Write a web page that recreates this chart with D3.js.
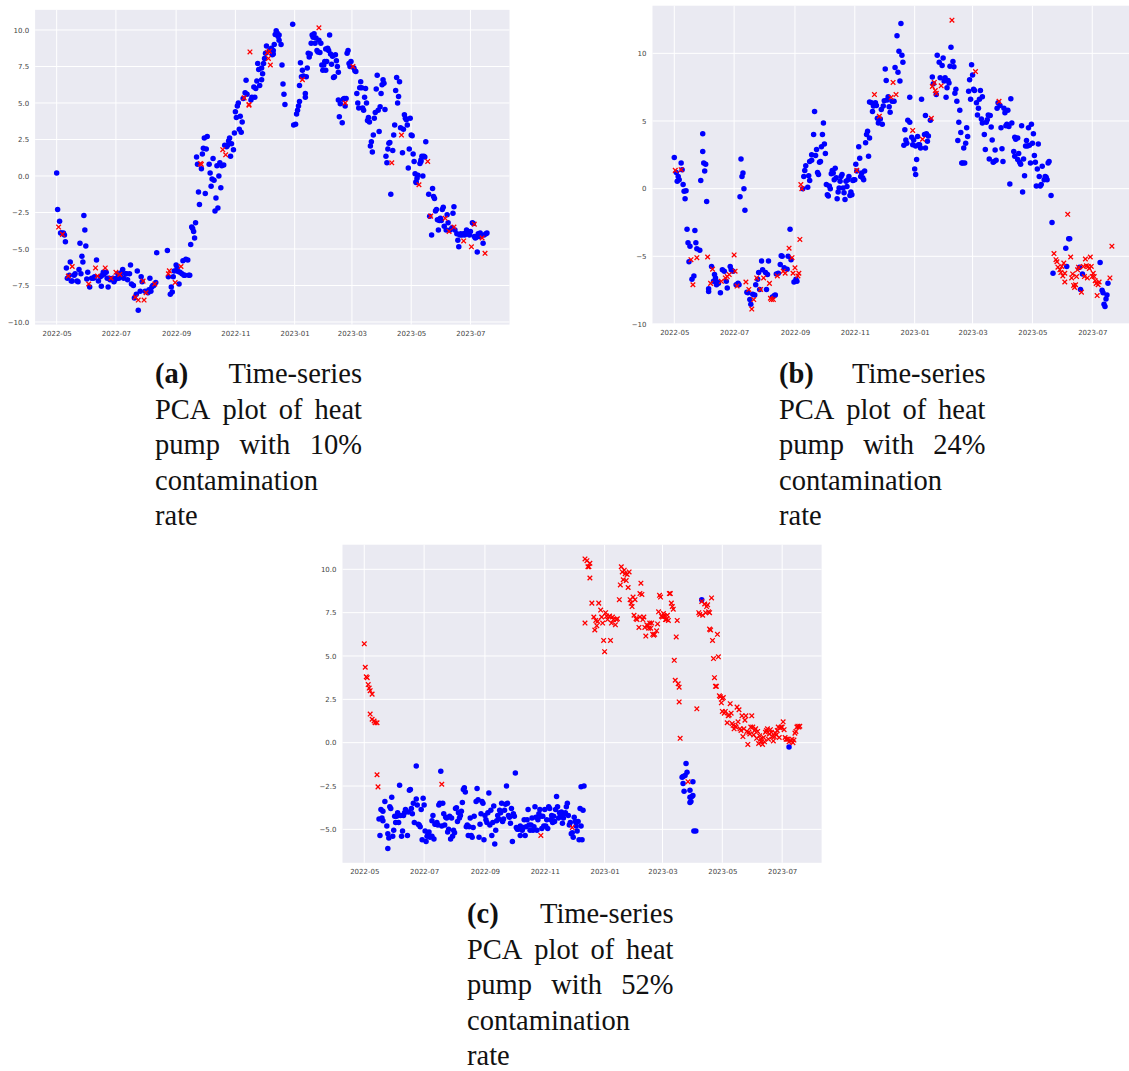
<!DOCTYPE html>
<html>
<head>
<meta charset="utf-8">
<script src="https://cdn.jsdelivr.net/npm/d3@7"></script>
<style>
  body { margin: 0; background: #fff; }
  svg { display: block; }
  .tick-label { font-family: "DejaVu Sans", sans-serif; font-size: 7px; fill: #444; }
  .caption { font-family: "Liberation Serif", serif; font-size: 28.5px; fill: #111; }
</style>
</head>
<body>
<div id="wrapper"></div>
<script>
// Month ticks shared by all three panels
const monthTicks = ["2022-05", "2022-07", "2022-09", "2022-11", "2023-01", "2023-03", "2023-05", "2023-07"];
const startDate = "2022-05-01"; // day 0 of every series

// y ticks per panel
const yTicksA = [-10, -7.5, -5, -2.5, 0, 2.5, 5, 7.5, 10];
const yTicksB = [-10, -5, 0, 5, 10];
const yTicksC = [-5, -2.5, 0, 2.5, 5, 7.5, 10];

// Captions
const captionLabels = ["(a)", "(b)", "(c)"];
const contaminationRates = ["10%", "24%", "52%"];

// [day since 2022-05-01, first principal component]
// (a) 10% contamination
const normalA = [[0,0.2],[1,-2.3],[3,-3.1],[4,-3.9],[5,-3.9],[7,-3.9],[8,-4.05],[9,-4.5],[10,-6.3],[11,-7.0],[13,-6.8],[14,-5.9],[15,-7.2],[16,-7.2],[18,-6.8],[19,-6.7],[21,-7.2],[22,-7.25],[23,-6.4],[24,-4.6],[25,-6.7],[26,-5.5],[27,-5.9],[28,-2.7],[29,-3.7],[30,-4.8],[31,-7.05],[32,-6.6],[34,-7.6],[36,-7.0],[38,-7.0],[39,-6.9],[41,-5.75],[43,-7.2],[45,-6.9],[46,-7.55],[47,-6.8],[48,-6.6],[49,-6.7],[51,-6.6],[52,-7.0],[53,-7.6],[54,-7.0],[55,-7.1],[58,-7.0],[59,-7.25],[60,-7.1],[62,-7.0],[63,-6.7],[64,-7.0],[66,-6.9],[67,-6.6],[68,-6.4],[69,-7.0],[71,-6.7],[72,-6.7],[73,-7.1],[75,-6.7],[76,-6.1],[77,-7.4],[79,-7.5],[80,-8.35],[82,-8.1],[83,-6.5],[84,-9.2],[86,-7.9],[87,-6.9],[88,-7.25],[91,-7.9],[94,-8.0],[95,-7.8],[96,-7.0],[97,-7.9],[98,-7.6],[99,-7.5],[100,-7.5],[102,-7.3],[103,-5.25],[114,-5.1],[115,-6.9],[117,-8.1],[118,-7.6],[119,-7.95],[120,-6.9],[121,-6.5],[123,-6.1],[124,-6.3],[125,-6.55],[126,-7.4],[127,-6.6],[129,-6.7],[130,-5.8],[131,-6.8],[132,-6.8],[133,-5.7],[135,-5.75],[136,-6.8],[137,-6.8],[138,-4.7],[139,-3.5],[140,-3.6],[141,-3.8],[142,-4.25],[143,-3.2],[144,1.3],[145,0.8],[146,-1.1],[147,-1.95],[149,0.5],[150,1.5],[151,1.9],[152,2.6],[153,-1.2],[154,1.85],[155,2.7],[157,0.8],[158,0.2],[159,-0.7],[160,-0.2],[161,1.2],[162,-0.3],[163,-2.4],[164,-1.5],[165,0.7],[166,-2.2],[167,0.0],[168,0.9],[169,-0.8],[170,0.7],[172,0.75],[173,2.1],[175,2.0],[176,2.1],[177,2.4],[178,2.6],[179,1.35],[180,2.2],[182,1.8],[183,2.95],[184,4.4],[185,4.0],[186,4.8],[187,5.0],[188,3.2],[189,4.1],[190,3.0],[191,3.7],[192,5.3],[194,5.7],[195,6.55],[196,5.6],[200,5.2],[201,5.4],[203,6.1],[204,5.4],[205,6.0],[206,6.5],[207,7.7],[208,7.3],[209,6.2],[211,7.4],[211,6.6],[212,7.0],[213,7.7],[214,8.05],[215,8.4],[216,8.9],[219,8.6],[221,8.75],[222,8.3],[223,8.6],[223,8.35],[224,9.0],[225,9.7],[226,9.95],[227,9.8],[228,9.55],[229,9.3],[229,9.65],[231,9.0],[232,7.6],[233,6.3],[234,5.6],[235,4.9],[243,10.4],[244,3.5],[246,3.55],[247,4.25],[248,4.5],[249,4.8],[250,5.1],[250,6.2],[251,7.75],[252,6.8],[253,7.25],[254,6.85],[256,5.65],[256,5.4],[257,6.8],[258,7.4],[259,8.4],[260,8.15],[261,8.35],[262,9.1],[263,9.65],[264,9.5],[265,9.75],[266,9.1],[267,9.45],[268,8.6],[269,8.5],[270,9.3],[271,8.45],[272,9.1],[273,7.6],[274,7.25],[275,7.6],[276,7.85],[277,7.25],[277,8.7],[278,7.85],[279,8.75],[280,8.6],[281,9.65],[282,8.35],[283,7.65],[284,8.2],[285,6.75],[286,6.8],[287,8.3],[288,7.9],[289,7.5],[290,7.1],[290,5.2],[291,4.05],[292,4.95],[294,3.65],[295,5.25],[296,5.3],[297,4.8],[298,5.3],[299,8.4],[300,8.6],[301,7.7],[302,7.5],[303,7.85],[306,7.4],[307,7.2],[308,7.15],[309,5.65],[310,5.0],[311,4.65],[312,6.05],[313,6.45],[314,6.05],[315,4.65],[316,4.5],[317,5.4],[318,6.0],[319,5.0],[320,3.8],[321,4.0],[322,3.7],[323,2.05],[324,2.35],[325,1.65],[326,2.8],[327,3.95],[328,4.35],[329,5.95],[330,6.9],[331,4.5],[332,3.05],[333,4.75],[334,5.65],[335,6.25],[336,6.6],[337,6.35],[338,4.55],[339,1.35],[340,0.9],[341,1.85],[342,2.25],[343,2.3],[344,-1.25],[346,1.75],[347,2.8],[348,3.5],[349,5.85],[350,6.75],[351,5.0],[352,5.45],[353,6.45],[354,3.3],[356,1.6],[357,3.2],[358,4.2],[359,3.95],[360,3.85],[361,3.5],[362,0.55],[363,1.85],[364,3.95],[365,2.8],[366,2.75],[367,1.5],[368,1.0],[369,0.15],[370,-0.4],[370,-0.45],[371,-0.15],[372,0.05],[374,0.85],[375,1.1],[375,1.0],[376,1.35],[377,0.0],[378,1.35],[379,1.3],[380,2.35],[383,-1.25],[384,-2.75],[386,-4.05],[387,-0.85],[388,-1.4],[389,-1.55],[390,-2.4],[391,-2.3],[392,-3.0],[393,-3.7],[394,-3.05],[395,-2.9],[396,-3.05],[397,-2.3],[398,-2.15],[399,-3.45],[401,-3.7],[402,-2.65],[403,-3.2],[405,-3.7],[407,-3.55],[408,-2.55],[409,-2.1],[410,-3.7],[412,-3.95],[413,-4.4],[414,-4.85],[415,-4.05],[416,-3.95],[417,-4.05],[418,-4.0],[419,-3.95],[420,-4.05],[421,-3.9],[422,-3.7],[423,-3.95],[425,-4.05],[426,-3.8],[428,-3.2],[429,-3.25],[430,-4.15],[431,-4.25],[432,-4.2],[433,-5.2],[434,-3.95],[435,-4.15],[436,-3.9],[439,-4.6],[440,-4.05],[442,-3.95],[443,-3.9]];
const anomalyA = [[2,-3.5],[6,-4.0],[12,-6.85],[16,-6.2],[33,-7.4],[40,-6.3],[42,-6.85],[50,-6.3],[56,-7.0],[61,-6.6],[65,-6.75],[81,-8.3],[84,-8.5],[89,-7.2],[90,-8.5],[92,-8.0],[101,-7.4],[115,-6.7],[116,-6.5],[122,-7.3],[128,-6.2],[148,0.85],[149,0.8],[171,1.8],[174,1.45],[193,5.35],[198,4.9],[198,4.85],[199,8.5],[217,8.45],[218,8.05],[219,8.55],[220,7.6],[253,6.6],[270,10.15],[297,5.0],[305,7.5],[345,0.9],[355,2.8],[373,-0.6],[382,1.0],[385,-2.75],[400,-2.9],[404,-3.8],[409,-3.5],[419,-4.45],[427,-4.85],[430,-3.3],[438,-4.25],[441,-5.3]];

// (b) 24% contamination
const normalB = [[0,2.3],[2,1.2],[3,0.55],[4,0.9],[5,0.65],[7,1.9],[8,1.4],[9,0.3],[10,-0.2],[12,-0.15],[11,-0.75],[13,-3.0],[14,-4.0],[15,-5.4],[16,-4.25],[18,-6.7],[20,-6.45],[21,-3.1],[22,-4.0],[23,-4.45],[26,-4.55],[27,0.6],[29,4.05],[29,2.75],[30,1.9],[31,1.3],[32,1.8],[33,-0.95],[35,-7.6],[35,-7.4],[38,-5.75],[40,-6.85],[41,-6.35],[42,-6.6],[43,-7.1],[44,-6.9],[45,-7.0],[47,-7.7],[49,-6.0],[51,-6.1],[53,-6.85],[54,-7.35],[57,-5.75],[58,-6.0],[60,-6.1],[63,-7.1],[65,-7.0],[66,-7.1],[67,-0.6],[68,2.2],[69,0.9],[70,1.15],[71,0.0],[72,-1.6],[74,-7.65],[75,-7.7],[77,-8.2],[78,-8.55],[80,-7.8],[82,-7.85],[83,-7.1],[85,-6.7],[86,-6.2],[87,-7.45],[89,-5.35],[90,-6.0],[93,-6.2],[94,-7.45],[95,-6.35],[96,-5.35],[100,-8.0],[102,-7.9],[103,-7.85],[104,-6.3],[106,-6.25],[108,-5.6],[109,-4.95],[110,-5.0],[112,-5.85],[115,-5.95],[116,-5.0],[118,-3.0],[119,-5.25],[122,-6.9],[124,-6.7],[125,-6.85],[131,0.0],[132,0.9],[133,1.35],[134,1.7],[136,0.1],[137,0.95],[138,0.6],[138,2.0],[140,2.1],[140,2.5],[142,4.0],[143,5.7],[144,2.45],[145,2.9],[146,1.2],[147,1.05],[148,1.95],[149,2.0],[150,3.1],[151,4.0],[152,4.85],[153,3.3],[154,2.6],[155,0.3],[156,-0.45],[157,-0.55],[158,0.2],[159,0.0],[160,1.1],[161,1.35],[162,1.15],[163,0.65],[164,1.5],[165,0.8],[166,-0.75],[167,-0.25],[168,0.05],[169,0.55],[170,0.9],[171,1.05],[172,0.05],[173,-0.3],[174,-0.8],[175,0.55],[176,0.15],[177,0.65],[178,0.9],[179,-0.5],[180,-0.25],[181,-0.45],[182,0.6],[183,0.65],[184,0.65],[185,1.8],[186,1.3],[188,3.1],[189,2.25],[190,0.9],[191,1.15],[192,0.8],[193,0.65],[194,1.3],[195,3.4],[196,4.0],[197,4.25],[198,2.4],[199,3.75],[199,6.4],[201,6.35],[202,5.7],[203,6.1],[205,6.35],[206,6.15],[207,5.2],[208,4.85],[210,5.15],[211,5.85],[212,4.75],[213,6.1],[214,6.5],[215,8.85],[216,8.0],[217,6.55],[218,6.8],[219,6.05],[220,5.65],[222,6.45],[224,6.45],[225,8.95],[227,11.3],[228,8.6],[229,10.15],[230,7.95],[231,12.2],[232,9.85],[233,9.35],[234,3.2],[235,4.35],[236,3.6],[237,3.35],[238,5.05],[240,6.75],[240,4.9],[242,3.8],[243,3.25],[244,3.6],[245,1.45],[246,1.05],[246,3.15],[247,2.15],[248,3.85],[249,3.25],[250,3.25],[251,3.0],[252,6.6],[255,4.0],[256,5.4],[256,3.0],[257,4.05],[258,3.5],[259,3.9],[261,5.05],[263,8.25],[264,7.75],[267,6.95],[268,9.85],[270,9.35],[271,8.2],[273,9.1],[274,9.65],[275,7.95],[276,8.2],[277,6.75],[278,7.45],[279,8.0],[280,7.8],[281,9.05],[282,10.45],[284,9.4],[285,9.0],[286,7.05],[287,7.35],[288,6.45],[289,3.55],[290,4.9],[291,5.8],[292,4.15],[293,1.9],[294,1.9],[295,3.0],[296,1.9],[297,3.35],[298,4.5],[299,3.85],[300,7.2],[301,8.05],[302,6.6],[303,9.15],[304,8.4],[305,7.35],[306,7.25],[308,6.35],[309,5.45],[310,5.95],[311,6.6],[312,7.25],[313,5.15],[314,4.85],[314,6.8],[316,4.0],[317,2.9],[318,4.9],[319,5.1],[320,5.45],[321,2.2],[322,5.4],[323,4.55],[324,3.6],[325,1.95],[326,2.0],[327,2.85],[328,2.1],[329,5.95],[330,6.35],[332,6.15],[333,4.5],[334,2.95],[335,2.0],[336,5.95],[337,5.6],[338,4.65],[339,4.75],[340,5.8],[341,4.6],[342,0.35],[343,6.65],[344,4.85],[346,2.75],[347,2.4],[347,3.8],[348,3.65],[350,2.15],[350,3.75],[351,2.6],[352,1.95],[353,1.8],[354,4.65],[355,-0.25],[356,2.2],[357,0.95],[358,3.15],[359,3.55],[360,3.15],[361,4.5],[362,3.2],[363,1.9],[364,4.75],[365,3.35],[366,4.05],[367,2.45],[368,1.95],[369,0.2],[370,1.45],[371,3.3],[372,0.9],[373,0.2],[374,0.3],[375,1.65],[377,0.65],[378,0.9],[379,0.85],[380,0.65],[381,1.9],[382,2.0],[384,-0.5],[385,-2.5],[386,-6.25],[399,-4.4],[400,-5.75],[402,-3.7],[403,-3.7],[413,-5.8],[414,-7.45],[416,-6.3],[434,-5.45],[436,-7.5],[437,-7.7],[438,-8.55],[439,-8.7],[440,-8.15],[441,-7.85],[442,-7.0]];
const anomalyB = [[1,1.35],[7,1.4],[17,-5.25],[19,-7.1],[23,-5.1],[34,-5.05],[37,-7.0],[39,-5.95],[48,-6.85],[52,-6.6],[54,-6.5],[56,-6.35],[61,-4.9],[62,-6.1],[64,-7.2],[73,-6.9],[76,-7.45],[79,-8.9],[81,-8.2],[84,-6.6],[88,-7.45],[91,-6.6],[97,-7.0],[98,-8.1],[99,-8.2],[101,-8.2],[105,-6.45],[111,-6.1],[113,-6.25],[117,-4.4],[120,-5.1],[121,-6.25],[123,-5.85],[126,-6.45],[127,-6.25],[128,-3.75],[129,0.3],[130,0.0],[186,1.35],[204,6.95],[209,5.35],[221,6.75],[223,7.85],[226,6.95],[243,4.3],[253,3.65],[262,5.2],[263,7.55],[265,7.85],[266,7.25],[267,7.05],[272,7.6],[283,12.45],[307,8.65],[331,6.45],[387,-4.8],[389,-5.25],[390,-5.4],[391,-5.8],[393,-6.0],[394,-6.2],[395,-5.75],[396,-6.45],[397,-5.5],[398,-6.25],[398,-6.9],[401,-1.9],[404,-5.05],[405,-6.6],[406,-6.3],[407,-7.15],[408,-7.3],[409,-7.1],[410,-6.5],[411,-6.0],[412,-5.8],[415,-7.65],[417,-5.75],[418,-6.5],[419,-5.2],[420,-5.7],[421,-6.6],[422,-5.75],[423,-5.9],[424,-5.05],[425,-5.75],[426,-6.5],[427,-6.25],[428,-6.5],[429,-6.8],[430,-7.0],[431,-7.9],[432,-7.1],[433,-6.9],[444,-6.6],[446,-4.25]];

// (c) 52% contamination
const normalC = [[15,-4.4],[16,-5.35],[17,-3.85],[18,-4.35],[19,-3.95],[19,-4.5],[21,-3.4],[23,-4.8],[24,-5.25],[24,-6.1],[25,-5.5],[26,-3.7],[27,-3.8],[28,-3.15],[29,-5.4],[30,-5.05],[31,-4.25],[32,-4.6],[33,-4.25],[34,-4.05],[35,-4.6],[36,-2.45],[37,-4.2],[38,-5.4],[39,-5.1],[40,-4.2],[41,-4.05],[42,-3.85],[44,-5.35],[45,-4.0],[46,-2.75],[47,-2.7],[48,-3.8],[49,-4.1],[50,-3.5],[51,-4.6],[53,-1.35],[53,-3.25],[54,-3.6],[55,-4.7],[56,-4.75],[57,-4.85],[58,-3.85],[59,-5.6],[60,-3.2],[61,-3.6],[62,-5.1],[63,-5.7],[64,-5.4],[65,-5.25],[66,-5.15],[67,-5.45],[69,-5.4],[69,-4.5],[70,-4.2],[71,-5.55],[72,-4.7],[73,-4.7],[74,-4.6],[75,-4.75],[76,-3.6],[77,-3.5],[78,-1.65],[79,-4.8],[80,-3.5],[81,-4.1],[82,-4.75],[83,-4.3],[84,-4.35],[85,-5.15],[86,-5.0],[87,-4.25],[88,-5.55],[89,-4.35],[90,-5.4],[91,-5.05],[92,-5.2],[93,-3.8],[94,-3.75],[95,-4.55],[96,-4.05],[97,-4.35],[98,-4.2],[99,-3.95],[100,-3.45],[101,-2.7],[102,-2.6],[103,-2.85],[104,-4.85],[105,-4.75],[106,-5.35],[107,-4.85],[108,-4.35],[109,-5.35],[110,-5.45],[111,-4.9],[112,-4.25],[114,-3.4],[115,-2.65],[116,-3.3],[117,-5.45],[118,-4.7],[119,-4.1],[120,-3.4],[121,-3.5],[122,-5.6],[123,-4.2],[124,-4.45],[125,-4.6],[126,-4.05],[127,-2.9],[128,-4.75],[129,-3.9],[130,-5.35],[131,-4.6],[132,-3.65],[133,-5.85],[134,-5.05],[135,-4.5],[136,-4.2],[137,-4.4],[138,-3.9],[139,-4.05],[140,-3.5],[141,-4.55],[142,-4.4],[143,-3.9],[144,-3.55],[145,-2.5],[146,-3.5],[147,-4.2],[148,-4.3],[149,-4.65],[150,-3.8],[151,-5.7],[152,-4.1],[153,-4.25],[154,-1.75],[155,-4.9],[156,-5.0],[157,-5.0],[159,-5.35],[159,-4.8],[161,-5.05],[162,-4.9],[163,-4.45],[164,-5.35],[165,-4.85],[166,-4.45],[167,-3.85],[168,-4.75],[169,-5.05],[170,-4.75],[171,-4.35],[172,-5.05],[173,-4.85],[174,-3.7],[175,-4.3],[176,-5.05],[177,-4.45],[178,-4.1],[179,-3.85],[180,-4.25],[181,-4.95],[182,-4.25],[183,-4.8],[184,-3.85],[185,-4.8],[186,-4.45],[187,-4.95],[188,-3.7],[189,-3.8],[190,-4.45],[191,-4.2],[192,-4.6],[193,-4.25],[194,-4.55],[195,-3.85],[196,-3.1],[197,-3.7],[198,-4.35],[199,-4.05],[200,-4.25],[201,-4.0],[202,-4.65],[203,-4.35],[204,-4.1],[205,-4.05],[206,-3.7],[207,-3.5],[208,-4.2],[209,-4.75],[210,-4.6],[211,-5.25],[212,-5.2],[213,-5.45],[214,-4.3],[215,-4.55],[216,-4.8],[217,-5.1],[218,-4.55],[219,-5.6],[220,-3.8],[221,-2.55],[221,-4.8],[222,-5.6],[223,-3.9],[224,-2.5],[324,-2.0],[325,-1.95],[325,-2.35],[326,-2.8],[327,-1.9],[328,-1.2],[329,-1.7],[332,-2.75],[332,-3.15],[332,-3.45],[333,-3.4],[334,-3.1],[335,-2.25],[335,-3.05],[336,-5.1],[338,-5.1],[344,8.25],[433,-0.25]];
const anomalyC = [[0,5.7],[1,4.35],[2,3.8],[3,3.75],[4,3.35],[5,3.15],[6,3.0],[8,2.8],[6,1.65],[8,1.35],[10,1.25],[11,1.15],[13,1.15],[13,-1.85],[14,-2.55],[79,-2.4],[180,-5.35],[212,-4.9],[225,10.6],[227,10.5],[228,10.15],[229,10.15],[230,10.35],[230,9.5],[232,8.05],[225,6.9],[234,7.25],[236,7.05],[235,6.5],[237,6.75],[238,7.0],[239,8.05],[241,7.65],[242,7.25],[243,6.9],[244,5.9],[245,5.25],[246,7.5],[247,7.3],[248,7.1],[250,7.3],[251,5.9],[252,6.9],[253,7.25],[254,7.1],[256,6.8],[257,7.1],[258,7.15],[260,8.25],[261,9.1],[262,10.15],[263,9.85],[264,9.4],[265,9.95],[266,9.75],[267,9.35],[268,9.7],[269,8.95],[270,9.85],[271,8.25],[272,8.05],[273,7.85],[274,8.4],[275,7.35],[276,8.25],[277,7.15],[278,7.1],[280,6.65],[281,7.25],[281,8.6],[282,9.2],[283,8.55],[284,7.1],[285,7.25],[286,6.65],[287,6.15],[288,6.8],[289,6.75],[290,6.6],[291,6.9],[292,6.6],[293,6.9],[294,6.25],[295,6.2],[296,6.25],[298,6.45],[299,6.85],[300,7.55],[301,8.5],[302,8.4],[303,7.3],[304,7.25],[305,7.45],[306,7.3],[307,7.1],[308,7.1],[309,7.35],[310,7.05],[311,8.6],[312,8.6],[313,8.05],[314,7.85],[315,7.7],[316,4.75],[317,3.6],[318,6.1],[319,7.05],[320,3.4],[321,3.2],[321,2.35],[322,0.25],[330,-2.25],[339,1.95],[341,7.5],[342,7.4],[344,8.15],[345,7.35],[347,8.0],[348,7.5],[349,7.85],[350,7.95],[351,7.55],[352,7.5],[352,6.55],[353,6.5],[354,8.35],[355,5.9],[356,4.85],[357,3.75],[358,3.25],[359,3.25],[360,6.25],[361,4.95],[362,2.7],[363,2.65],[364,2.3],[365,2.55],[366,2.6],[365,1.8],[367,1.7],[368,1.8],[370,1.15],[371,1.55],[372,1.6],[373,2.25],[374,1.7],[375,1.1],[376,1.0],[377,0.8],[378,0.95],[379,0.9],[380,2.05],[381,1.2],[382,1.9],[383,0.8],[384,0.7],[385,1.55],[386,0.35],[387,0.8],[388,1.3],[389,1.55],[390,0.65],[391,-0.1],[392,0.6],[393,0.5],[394,0.9],[395,1.55],[396,0.9],[397,0.45],[398,0.7],[399,0.8],[400,0.25],[401,0.65],[402,-0.05],[403,0.4],[404,0.2],[405,0.05],[406,-0.1],[407,0.3],[408,0.05],[409,0.6],[410,0.7],[411,0.8],[412,0.2],[413,0.5],[414,0.75],[415,0.6],[416,0.35],[417,0.1],[418,0.35],[419,0.55],[420,0.45],[421,0.7],[422,0.9],[423,0.3],[424,0.85],[425,0.9],[426,0.9],[427,1.2],[428,0.75],[429,0.3],[430,0.2],[431,0.2],[432,0.2],[433,0.05],[435,0.1],[436,0.2],[437,0.0],[438,0.15],[439,0.55],[440,0.65],[441,0.9],[442,0.95],[443,0.9],[444,0.95]];

// ---- layout of the three sub-figures (pixels on the page) ----
const panels = [
  { normal: normalA, anomaly: anomalyA, yTicks: yTicksA, yFormat: ".1f", yDomain: [-10.18, 11.38],
    frame: { left: 35.1, right: 509.5, top: 9.85, bottom: 324.6 },
    caption: { left: 155, right: 362, baseline: 383 } },
  { normal: normalB, anomaly: anomalyB, yTicks: yTicksB, yFormat: "d", yDomain: [-9.98, 13.52],
    frame: { left: 652.5, right: 1131.7, top: 5.7, bottom: 323.7 },
    caption: { left: 779, right: 985.5, baseline: 383 } },
  { normal: normalC, anomaly: anomalyC, yTicks: yTicksC, yFormat: ".1f", yDomain: [-6.93, 11.42],
    frame: { left: 342.5, right: 821.6, top: 544.7, bottom: 862.8 },
    caption: { left: 467, right: 673.5, baseline: 923 } },
];

const baseDate = d3.timeParse("%Y-%m-%d")(startDate);
const dayToDate = d => new Date(baseDate.getTime() + d * 864e5);
const monthDates = monthTicks.map(d3.timeParse("%Y-%m"));

const width = 1129;
const height = 1071;

const svg = d3.select("#wrapper")
  .append("svg")
    .attr("width", width)
    .attr("height", height);

panels.forEach((p, i) => {
  const f = p.frame;

  // Same x range in every panel: data spans day 0..444, matplotlib adds 5% margins
  const xScale = d3.scaleTime()
    .domain([dayToDate(-22.2), dayToDate(466.2)])
    .range([f.left, f.right]);
  const yScale = d3.scaleLinear()
    .domain(p.yDomain)
    .range([f.bottom, f.top]);

  const g = svg.append("g");

  // seaborn darkgrid background
  g.append("rect")
    .attr("x", f.left)
    .attr("y", f.top)
    .attr("width", f.right - f.left)
    .attr("height", f.bottom - f.top)
    .attr("fill", "#eaeaf2");

  // grid lines
  g.selectAll(".vgrid")
    .data(monthDates)
    .join("line")
      .attr("x1", d => xScale(d))
      .attr("x2", d => xScale(d))
      .attr("y1", f.top)
      .attr("y2", f.bottom)
      .attr("stroke", "#fff")
      .attr("stroke-width", 1);
  g.selectAll(".hgrid")
    .data(p.yTicks)
    .join("line")
      .attr("x1", f.left)
      .attr("x2", f.right)
      .attr("y1", d => yScale(d))
      .attr("y2", d => yScale(d))
      .attr("stroke", "#fff")
      .attr("stroke-width", 1);

  // axes without domain lines or tick marks, just labels
  const xAxis = d3.axisBottom(xScale)
    .tickValues(monthDates)
    .tickFormat(d3.timeFormat("%Y-%m"))
    .tickSize(0)
    .tickPadding(6);
  const xAxisGroup = g.append("g")
    .attr("transform", `translate(0, ${f.bottom})`)
    .call(xAxis);

  const yAxis = d3.axisLeft(yScale)
    .tickValues(p.yTicks)
    .tickFormat(d3.format(p.yFormat))
    .tickSize(0)
    .tickPadding(6);
  const yAxisGroup = g.append("g")
    .attr("transform", `translate(${f.left}, 0)`)
    .call(yAxis);

  [xAxisGroup, yAxisGroup].forEach(ax => {
    ax.select(".domain").remove();
    ax.selectAll("text")
      .attr("class", "tick-label")
      .attr("font-family", null)
      .attr("font-size", null)
      .attr("fill", null);
    ax.attr("font-family", null).attr("font-size", null);
  });

  // clip points to the axes box
  const clipId = `clip-${i}`;
  svg.append("clipPath")
      .attr("id", clipId)
    .append("rect")
      .attr("x", f.left)
      .attr("y", f.top)
      .attr("width", f.right - f.left)
      .attr("height", f.bottom - f.top);

  const marks = g.append("g").attr("clip-path", `url(#${clipId})`);

  marks.selectAll(".normal")
    .data(p.normal)
    .join("circle")
      .attr("class", "normal")
      .attr("cx", d => xScale(dayToDate(d[0])))
      .attr("cy", d => yScale(d[1]))
      .attr("r", 2.75)
      .attr("fill", "#0000ff");

  const s = 2.3;
  marks.selectAll(".anomaly")
    .data(p.anomaly)
    .join("path")
      .attr("class", "anomaly")
      .attr("transform", d => `translate(${xScale(dayToDate(d[0]))}, ${yScale(d[1])})`)
      .attr("d", `M${-s},${-s}L${s},${s}M${-s},${s}L${s},${-s}`)
      .attr("stroke", "#ff0000")
      .attr("stroke-width", 1.3)
      .attr("fill", "none");

  // caption, justified like the LaTeX subcaption
  const c = p.caption;
  const lines = [
    { words: [captionLabels[i], "Time-series"], justify: true },
    { words: ["PCA", "plot", "of", "heat"], justify: true },
    { words: ["pump", "with", contaminationRates[i]], justify: true },
    { words: ["contamination"], justify: false },
    { words: ["rate"], justify: false },
  ];
  const lineHeight = 35.5;
  lines.forEach((line, li) => {
    const y = c.baseline + li * lineHeight;
    const texts = line.words.map((w, wi) => g.append("text")
      .attr("class", "caption")
      .attr("y", y)
      .style("font-weight", li === 0 && wi === 0 ? "bold" : "normal")
      .text(w));
    const widths = texts.map(t => t.node().getComputedTextLength());
    const total = d3.sum(widths);
    const gap = line.justify && texts.length > 1
      ? (c.right - c.left - total) / (texts.length - 1)
      : 7;
    let x = c.left;
    texts.forEach((t, ti) => {
      t.attr("x", x);
      x += widths[ti] + gap;
    });
  });
});
</script>
</body>
</html>
